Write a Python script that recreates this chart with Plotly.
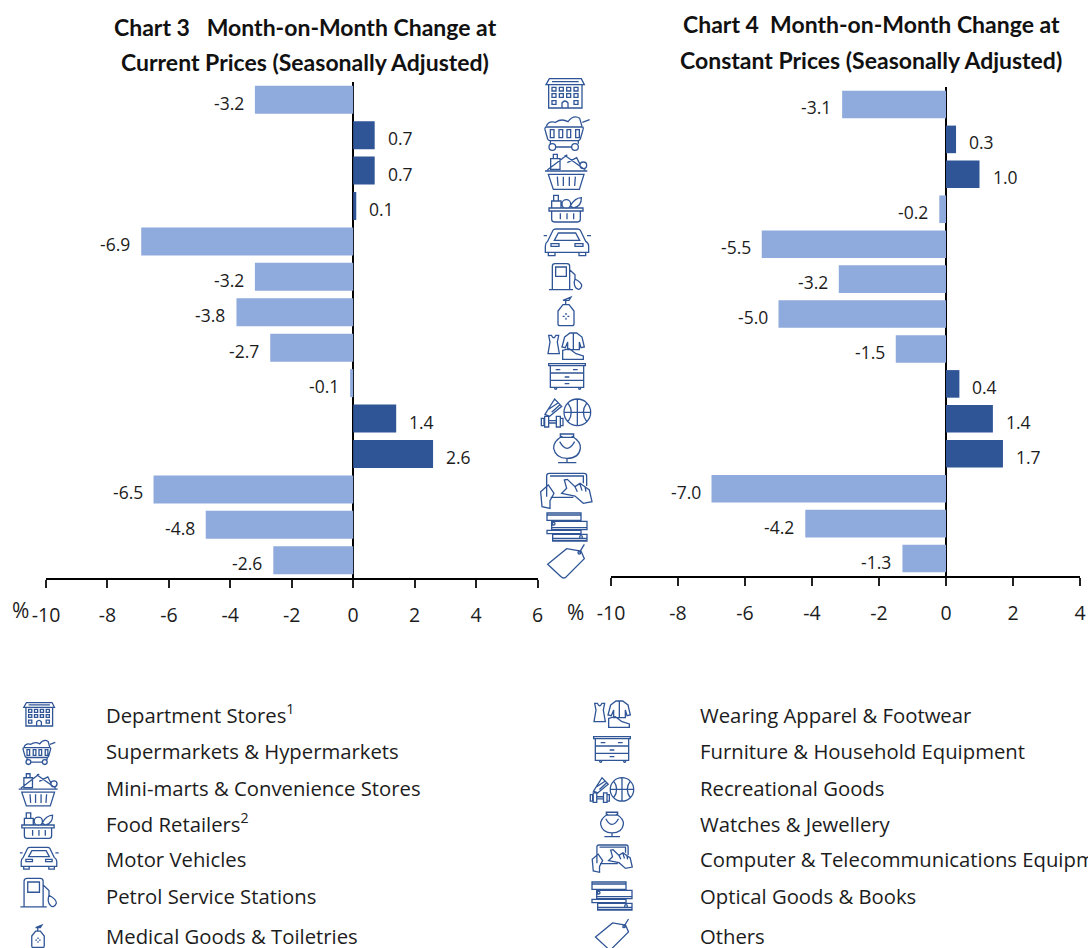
import re
import plotly.graph_objects as go

W, H = 1088, 948

categories = [
    "Department Stores", "Supermarkets & Hypermarkets", "Mini-marts & Convenience Stores",
    "Food Retailers", "Motor Vehicles", "Petrol Service Stations", "Medical Goods & Toiletries",
    "Wearing Apparel & Footwear", "Furniture & Household Equipment", "Recreational Goods",
    "Watches & Jewellery", "Computer & Telecommunications Equipment", "Optical Goods & Books", "Others",
]
current_prices = [-3.2, 0.7, 0.7, 0.1, -6.9, -3.2, -3.8, -2.7, -0.1, 1.4, 2.6, -6.5, -4.8, -2.6]
constant_prices = [-3.1, 0.3, 1.0, -0.2, -5.5, -3.2, -5.0, -1.5, 0.4, 1.4, 1.7, -7.0, -4.2, -1.3]
left_ticks = [-10, -8, -6, -4, -2, 0, 2, 4, 6]
right_ticks = [-10, -8, -6, -4, -2, 0, 2, 4]

legend_left = ["Department Stores<sup>1</sup>", "Supermarkets & Hypermarkets", "Mini-marts & Convenience Stores",
               "Food Retailers<sup>2</sup>", "Motor Vehicles", "Petrol Service Stations", "Medical Goods & Toiletries"]
legend_right = ["Wearing Apparel & Footwear", "Furniture & Household Equipment", "Recreational Goods",
                "Watches & Jewellery", "Computer & Telecommunications Equipment", "Optical Goods & Books", "Others"]
legend_rows = [716, 752, 789, 825, 860, 897, 937]

NAVY = "#2F5597"
LIGHT = "#8FAADC"
INK = "#1c1c1c"
BODY = "Open Sans, sans-serif"
HEADING = "Lato, Open Sans, sans-serif"


def px(x):
    return x / W


def py(y):
    return 1 - y / H


def rect(x, y, w, h):
    return f"M{x} {y} L{x+w} {y} L{x+w} {y+h} L{x} {y+h} Z"


def circ(cx, cy, r):
    k = 0.5523 * r
    return (f"M{cx+r} {cy} C{cx+r} {cy+k} {cx+k} {cy+r} {cx} {cy+r} "
            f"C{cx-k} {cy+r} {cx-r} {cy+k} {cx-r} {cy} "
            f"C{cx-r} {cy-k} {cx-k} {cy-r} {cx} {cy-r} "
            f"C{cx+k} {cy-r} {cx+r} {cy-k} {cx+r} {cy} Z")


# Pictograms are outlined in a 3x working grid; each one carries its own centre point.
def grid(cols, rows, w, h):
    return " ".join(rect(x, y, w, h) for x in cols for y in rows)


ICONS = {
    "store": ((109, 70), [
        "M52 45 L62 27 L158 27 L167 45 Z", "M70 36 L150 36", rect(60, 45, 100, 70),
        grid([70, 92, 114, 136], [53, 72], 12, 11), grid([70, 136], [93], 12, 11),
        "M100 115 L100 100 Q109 88 118 100 L118 115",
    ]),
    "cart": ((112, 190), [
        "M50 172 L158 172 Q162 172 160 180 L152 208 Q150 213 144 213 L62 213 Q56 213 54 208 L46 180 Q45 172 50 172 Z",
        grid([62, 88, 112, 138], [180], 11, 24),
        "M50 170 Q56 152 78 158 Q95 145 115 156 Q132 134 150 146 L157 170", "M158 158 L180 150",
        circ(68, 232, 10), circ(136, 232, 10), "M78 232 L126 232", "M62 213 L62 222 M146 213 L146 222",
    ]),
    "basket": ((108, 308), [
        rect(62, 268, 28, 32), rect(70, 255, 12, 13), "M52 302 L112 256", "M104 258 L166 302",
        "M112 280 L140 265 L150 285", circ(160, 288, 10),
        "M45 305 L172 305", "M55 315 L162 315 L148 360 L70 360 Z",
        "M82 322 L84 350 M100 322 L100 350 M118 322 L118 350 M136 322 L134 350",
    ]),
    "food": ((109, 416), [
        rect(66, 395, 28, 21), rect(72, 378, 14, 17), circ(110, 404, 13),
        "M122 410 Q135 386 155 385 Q156 410 132 416 Z", rect(58, 416, 102, 9),
        "M66 425 L152 425 L152 450 Q152 458 144 458 L74 458 Q66 458 66 450 Z",
        "M92 432 L92 450 M112 432 L112 450 M132 432 L132 450",
    ]),
    "car": ((110, 517), [
        "M52 515 L68 482 Q70 478 78 478 L140 478 Q148 478 150 482 L166 515 Q175 520 175 530 L175 548 L45 548 L45 530 Q45 520 52 515 Z",
        "M72 512 L84 490 L136 490 L148 512 Z", rect(62, 522, 24, 8), rect(134, 522, 24, 8),
        rect(54, 548, 20, 10), rect(146, 548, 20, 10), "M40 498 L50 498 M170 498 L182 498",
    ]),
    "pump": ((106, 622), [
        "M68 658 L68 590 Q68 582 76 582 L112 582 Q120 582 120 590 L120 658", "M58 660 L130 660",
        rect(78, 592, 32, 28), "M120 600 L136 615 L136 628 Q158 640 156 650 Q150 664 140 656 Q130 645 136 628",
    ]),
    "bottle": ((109, 722), [
        "M100 690 L124 680 L118 690 Z", "M108 690 L108 703",
        "M85 722 L100 703 L118 703 L133 722 L133 760 Q133 766 127 766 L91 766 Q85 766 85 760 Z",
        "M109 728 L109 734 M109 742 L109 748 M99 738 L105 738 M113 738 L119 738",
    ]),
    "apparel": ((110, 77), [
        "M58 45 L62 65 L56 100 L90 100 L84 65 L88 45 L80 45 Q73 60 66 45 Z",
        "M106 50 L122 38 L142 38 L158 50 L165 80 L155 82 L150 65 L150 88 L115 88 L115 65 L108 82 L98 80 Z",
        "M132 40 L132 88", "M100 90 L120 85 L140 100 L162 107 L162 117 L100 117 Z",
    ]),
    "drawers": ((110, 172), [
        rect(55, 132, 110, 6), rect(60, 138, 100, 65), "M60 160 L160 160 M60 182 L160 182",
        "M76 150 L90 150 M128 150 L142 150 M103 172 L117 172 M103 192 L117 192",
        circ(76, 206, 3), circ(148, 206, 3),
    ]),
    "sport": ((109, 282), [
        circ(143, 280, 40), "M143 240 L143 320 M103 280 L183 280",
        "M115 252 Q135 280 115 308 M171 252 Q151 280 171 308",
        rect(35, 298, 8, 22), rect(45, 292, 12, 32), rect(80, 292, 12, 32), rect(92, 298, 8, 22),
        "M57 305 L80 305 M57 312 L80 312", "M46 286 L75 240 L96 262 L60 292 Z", "M58 270 L85 252 M66 280 L90 258",
    ]),
    "jewel": ((112, 387), [
        "M98 348 Q70 365 72 385 Q78 415 112 415 Q148 415 152 385 Q155 365 126 348", rect(92, 342, 40, 10),
        "M90 365 Q112 405 135 365", "M112 415 L112 428", "M85 428 L140 428",
    ]),
    "tablet": ((108, 510), [
        "M50 530 L50 468 Q50 460 58 460 L162 460 Q170 460 170 468 L170 498",
        "M60 468 L160 468 L160 490", "M62 532 L130 532",
        "M32 515 L55 495 L72 520 L60 542 L60 565 L36 560 Z",
        "M103 480 L112 478 L135 500 L150 490 L178 510 L186 545 L160 550 L135 528 L95 520 L110 505 Z",
        "M135 500 L142 515 M150 492 L156 512 M165 500 L168 515",
    ]),
    "books": ((108, 620), [
        rect(48, 578, 102, 22), rect(62, 603, 106, 25), rect(48, 630, 102, 10), rect(65, 642, 103, 20),
        "M48 578 L150 578 M48 584 L150 584 M62 628 L168 628 M62 622 L168 622 M65 660 L168 660 M65 654 L168 654 M48 640 L150 640",
        circ(68, 610, 4), circ(150, 650, 4),
    ]),
    "tag": ((110, 725), [
        "M55 735 L112 688 L155 695 L165 718 L108 775 Q100 778 95 772 Z", circ(150, 700, 4), "M150 700 L165 675",
    ]),
}


def icon_shape(name, cx, cy, scale):
    (ox, oy), parts = ICONS[name]
    tokens = re.findall(r"[MLCQZ]|-?\d+\.?\d*", " ".join(parts))
    out, is_x = [], True
    for tok in tokens:
        if tok in "MLCQZ":
            out.append(tok)
            is_x = True
        elif is_x:
            out.append(f"{px(cx + (float(tok) - ox) * scale / 3):.5f}")
            is_x = False
        else:
            out.append(f"{py(cy + (float(tok) - oy) * scale / 3):.5f}")
            is_x = True
    path = " ".join(out)
    path = re.sub(r"([MLCQ]) ", r"\1", path)
    return dict(type="path", xref="paper", yref="paper", path=path,
                line=dict(color=NAVY, width=1.3), fillcolor="rgba(0,0,0,0)", layer="above")


icon_rows = [
    ("store", 565, 93, 1), ("cart", 567, 133, 1), ("basket", 566, 172, 1), ("food", 566, 208, 1),
    ("car", 567, 242, 1), ("pump", 565, 277, 1), ("bottle", 566, 311, 1), ("apparel", 566, 346, 1),
    ("drawers", 567, 377, 1), ("sport", 566, 413, 1), ("jewel", 567, 449, 1), ("tablet", 566, 490, 1),
    ("books", 567, 527, 1), ("tag", 566, 561, 1),
    ("store", 39, 714, 0.8), ("cart", 39, 752, 0.72), ("basket", 38, 790, 0.92), ("food", 38, 825, 0.95),
    ("car", 39, 858, 0.82), ("pump", 38, 893, 1.1), ("bottle", 38, 936, 0.78),
    ("apparel", 612, 714, 1.0), ("drawers", 612, 750, 1.0), ("sport", 612, 790, 0.88), ("jewel", 612, 825, 0.85),
    ("tablet", 612, 858, 0.78), ("books", 612, 896, 1.0), ("tag", 612, 934, 0.9),
]
shapes = [icon_shape(*row) for row in icon_rows]

fig = go.Figure()


def add_panel(values, ticks, xname, yname, x0, x1, rng, top, bottom):
    fig.add_trace(go.Bar(
        x=values, y=categories, orientation="h", xaxis=xname, yaxis=yname,
        marker=dict(color=[NAVY if v > 0 else LIGHT for v in values], line=dict(width=0)),
        width=0.79, showlegend=False,
    ))
    axis = dict(
        domain=[px(x0), px(x1)], range=rng, tickvals=ticks, ticktext=[str(t) for t in ticks],
        showgrid=False, showline=True, linecolor="black", linewidth=2, ticks="outside", ticklen=8,
        tickwidth=1.5, tickcolor="#222", zeroline=True, zerolinecolor="black", zerolinewidth=1.5,
        tickfont=dict(family=BODY, size=19.5, color=INK), ticklabelstandoff=11, anchor=yname,
        tickangle=0, automargin=False,
    )
    yaxis = dict(domain=[py(bottom), py(top)], type="category", categoryorder="array",
                 categoryarray=categories, autorange=False, range=[13.5, -0.5], visible=False,
                 anchor=xname, automargin=False)
    fig.update_layout({f"xaxis{xname[1:]}": axis, f"yaxis{yname[1:]}": yaxis})
    for cat, v in zip(categories, values):
        fig.add_annotation(
            x=v, y=cat, xref=xname, yref=yname, text=f"{v:.1f}", showarrow=False,
            xanchor="left" if v > 0 else "right", xshift=11 if v > 0 else -9, yshift=-3,
            font=dict(family=BODY, size=17.5, color=INK),
        )


add_panel(current_prices, left_ticks, "x", "y", 46, 537.5, [-10, 6], 82, 578)
add_panel(constant_prices, right_ticks, "x2", "y2", 611, 1080, [-10, 4], 87, 576)


def page_text(text, x, y, size, family=BODY, anchor="left", color=INK):
    fig.add_annotation(x=px(x), y=py(y), xref="paper", yref="paper", text=text, showarrow=False,
                       xanchor=anchor, yanchor="middle",
                       font=dict(family=family, size=size, color=color))


for text, x, y in [
    ("<b>Chart 3   Month-on-Month Change at</b>", 305, 27),
    ("<b>Current Prices (Seasonally Adjusted)</b>", 305, 62),
    ("<b>Chart 4  Month-on-Month Change at</b>", 871, 24),
    ("<b>Constant Prices (Seasonally Adjusted)</b>", 871, 60),
]:
    page_text(text, x, y, 23, family=HEADING, anchor="center", color="#111")

page_text("%", 10, 610, 21)
page_text("%", 565, 612, 21)

for column_x, labels in [(104, legend_left), (698, legend_right)]:
    for label, y in zip(labels, legend_rows):
        # Raised footnote markers make the line box taller, so those rows sit a little higher.
        page_text(label, column_x, y - 2 if "<sup>" in label else y - 1, 20.3)

fig.update_layout(
    width=W, height=H, autosize=False, margin=dict(l=0, r=0, t=0, b=0),
    paper_bgcolor="white", plot_bgcolor="white", barmode="overlay", shapes=shapes,
)
fig.write_html("out.html", config=dict(displayModeBar=False))
